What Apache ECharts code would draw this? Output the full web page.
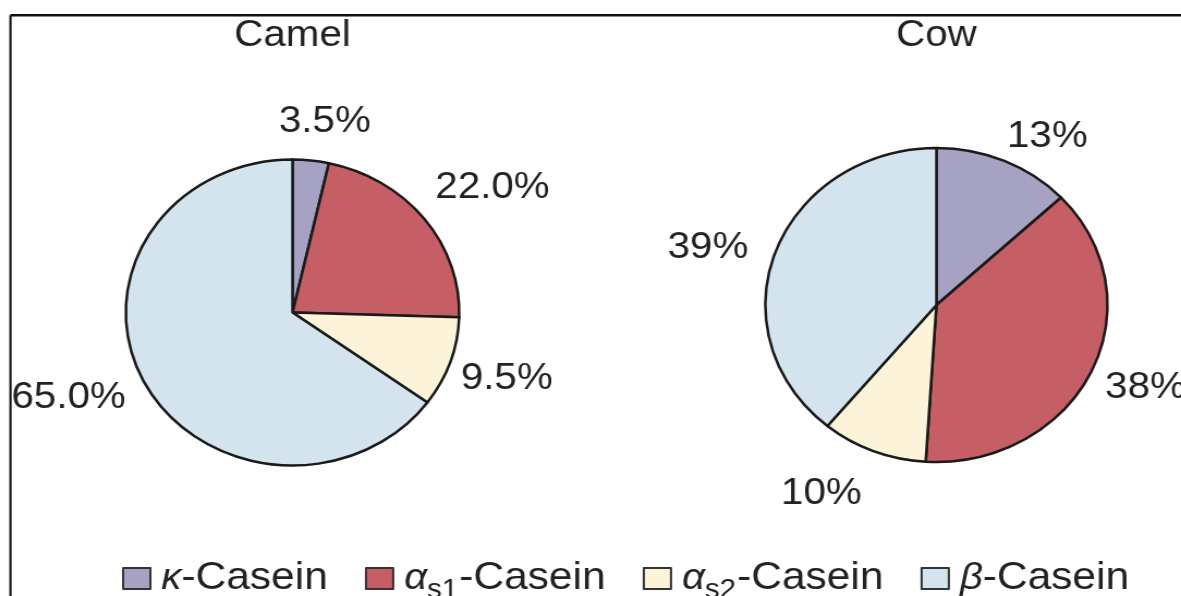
<!DOCTYPE html>
<html>
<head>
<meta charset="utf-8">
<script src="https://cdn.jsdelivr.net/npm/echarts@6/dist/echarts.min.js"></script>
<style>
html, body { margin: 0; padding: 0; background: #ffffff; overflow: hidden; }
#chart { position: absolute; left: 0; top: 0; width: 1084px; height: 596px; transform: scaleX(1.0895); transform-origin: 0 0; }
</style>
</head>
<body>
<div id="chart"></div>
<script>
// ---- data ----
const categories = ['κ-Casein', 'αs1-Casein', 'αs2-Casein', 'β-Casein'];
const greekLetters = ['κ', 'α', 'α', 'β'];
const subscripts = ['', 's1', 's2', ''];
const panelTitles = ['Camel', 'Cow'];
const camelValues = [3.5, 22.0, 9.5, 65.0];
const cowValues = [13, 38, 10, 39];
const labelDecimals = [1, 0];

// ---- style / layout ----
const colors = ['#A6A2C4', '#C55E65', '#FCF3D8', '#D4E4EE'];
const FONT = '"Liberation Sans", Arial, Helvetica, sans-serif';
const TEXT = '#222222';
const LABEL_FONT = 37;
const LABEL_GAP = 17;
const panels = [
  { center: [268.5, 312.5], radius: 153, nudges: [[9, -4], [10, 10], [-6, -3], [-7, -16]] },
  { center: [859.5, 305], radius: 157, nudges: [[22, 16], [-1, -8], [-32, 3], [-9, 15]] }
];
const seriesValues = [camelValues, cowValues];

function makeLabelLayout(values, panel) {
  const total = values.reduce((a, b) => a + b, 0);
  return function (p) {
    let before = 0;
    for (let i = 0; i < p.dataIndex; i++) before += values[i];
    const mid = (before + values[p.dataIndex] / 2) / total * 2 * Math.PI;
    const s = Math.sin(mid), c = Math.cos(mid);
    const hw = p.labelRect.width / 2, hh = LABEL_FONT * 0.36;
    const d = panel.radius + LABEL_GAP + Math.abs(s) * hw + Math.abs(c) * hh;
    const n = panel.nudges[p.dataIndex];
    return {
      x: panel.center[0] + d * s + n[0],
      y: panel.center[1] - d * c + n[1],
      align: 'center',
      verticalAlign: 'middle'
    };
  };
}

const chart = echarts.init(document.getElementById('chart'), null, { renderer: 'canvas' });

const option = {
  animation: false,
  backgroundColor: '#ffffff',
  color: colors,
  title: panelTitles.map((t, i) => ({
    text: t,
    left: panels[i].center[0],
    top: 17,
    padding: 0,
    textAlign: 'center',
    textStyle: { fontFamily: FONT, fontSize: 37, fontWeight: 'normal', color: TEXT }
  })),
  legend: {
    data: categories,
    left: 112,
    top: 553,
    padding: 0,
    orient: 'horizontal',
    itemWidth: 25,
    itemHeight: 21,
    itemGap: 34,
    icon: 'rect',
    selectedMode: false,
    itemStyle: { borderColor: '#333333', borderWidth: 2 },
    formatter: function (name) {
      const i = categories.indexOf(name);
      const sub = subscripts[i] ? '{s|' + subscripts[i] + '}' : '';
      return '{g|' + greekLetters[i] + '}' + sub + '{t|-Casein}';
    },
    textStyle: {
      fontFamily: FONT,
      fontSize: 39,
      color: TEXT,
      padding: [0, 0, 0, 5],
      rich: {
        g: { fontFamily: FONT, fontSize: 37, fontStyle: 'italic', color: TEXT, lineHeight: 40 },
        s: { fontFamily: FONT, fontSize: 27, color: TEXT, lineHeight: 27, padding: [24, 1, 0, 0] },
        t: { fontFamily: FONT, fontSize: 39, color: TEXT, lineHeight: 40 }
      }
    }
  },
  graphic: [
    { type: 'line', silent: true, shape: { x1: 9.6, y1: 15.3, x2: 1100, y2: 15.3 }, style: { stroke: '#111111', lineWidth: 2.5 } },
    { type: 'line', silent: true, shape: { x1: 9.6, y1: 15.3, x2: 9.6, y2: 600 }, style: { stroke: '#111111', lineWidth: 2.1 } }
  ],
  series: seriesValues.map((vals, si) => ({
    type: 'pie',
    name: panelTitles[si],
    center: panels[si].center,
    radius: panels[si].radius,
    startAngle: 90,
    clockwise: true,
    avoidLabelOverlap: false,
    itemStyle: { borderColor: '#1a1a1a', borderWidth: 2.5 },
    emphasis: { disabled: true },
    label: {
      show: true,
      position: 'outside',
      fontFamily: FONT,
      fontSize: LABEL_FONT,
      color: TEXT,
      formatter: function (p) { return p.value.toFixed(labelDecimals[si]) + '%'; }
    },
    labelLine: { show: false },
    labelLayout: makeLabelLayout(vals, panels[si]),
    data: categories.map((c, i) => ({ name: c, value: vals[i] }))
  }))
};

chart.setOption(option);
</script>
</body>
</html>
